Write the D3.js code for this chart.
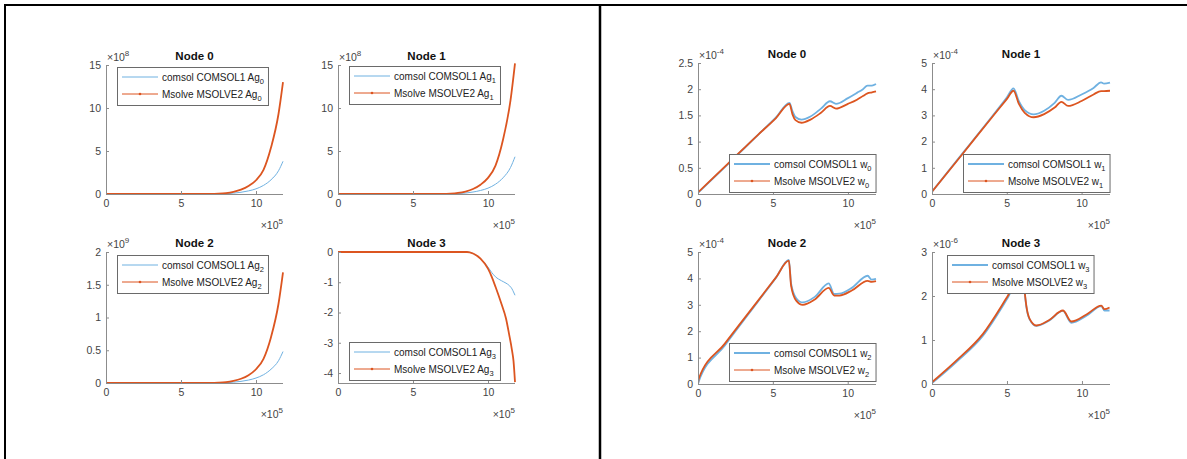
<!DOCTYPE html>
<html><head><meta charset="utf-8">
<script src="https://cdn.jsdelivr.net/npm/d3@7"></script>
<style>
html,body{margin:0;padding:0;background:#fff;}
svg{display:block;font-family:"Liberation Sans",Arial,Helvetica,sans-serif;}
</style></head><body>
<svg id="c" width="1187" height="459"></svg>
<script>
// ---------------- data (x in units of 1e5) ----------------
const xTicks = [0, 5, 10];
const seriesNames = ["comsol COMSOL1", "Msolve MSOLVE2"];

// Left block: Ag
const agX = [0, 1, 2, 3, 4, 5, 6, 7, 7.5, 8, 8.5, 9, 9.5, 10, 10.5, 11, 11.5, 11.8];
const ag0Comsol = [0, 0, 0, 0, 0, 0, 0, 0, 0.01, 0.04, 0.1, 0.2, 0.36, 0.6, 1.0, 1.65, 2.7, 3.8];
const ag0Msolve = [0, 0, 0, 0, 0, 0, 0, 0, 0.03, 0.1, 0.25, 0.5, 0.92, 1.6, 2.8, 5.4, 9.3, 13.0];
const ag1Comsol = [0, 0, 0, 0, 0, 0, 0, 0, 0.01, 0.05, 0.11, 0.23, 0.41, 0.68, 1.14, 1.88, 3.08, 4.33];
const ag1Msolve = [0, 0, 0, 0, 0, 0, 0, 0, 0.035, 0.12, 0.29, 0.58, 1.08, 1.87, 3.3, 6.3, 10.9, 15.2];
const ag2Comsol = [0, 0, 0, 0, 0, 0, 0, 0, 0.001, 0.005, 0.013, 0.025, 0.045, 0.076, 0.126, 0.21, 0.34, 0.48];
const ag2Msolve = [0, 0, 0, 0, 0, 0, 0, 0, 0.004, 0.013, 0.033, 0.065, 0.12, 0.21, 0.37, 0.7, 1.21, 1.69];
const ag3X = [0, 1, 2, 3, 4, 5, 6, 7, 8, 8.6, 9, 9.5, 10, 10.25, 10.5, 10.9, 11.2, 11.4, 11.6, 11.7, 11.8];
const ag3Comsol = [0, 0, 0, 0, 0, 0, 0, 0, 0, 0, -0.05, -0.22, -0.5, -0.68, -0.82, -0.95, -1.03, -1.1, -1.22, -1.32, -1.43];
const ag3Msolve = [0, 0, 0, 0, 0, 0, 0, 0, 0, 0, -0.05, -0.22, -0.55, -0.82, -1.15, -1.72, -2.2, -2.7, -3.25, -3.6, -4.3];

// Right block: w
const w0X = [0, 2, 4, 5.2, 6.1, 6.3, 6.5, 6.9, 7.5, 8.2, 8.8, 9.2, 10, 10.6, 11, 11.3, 11.6, 11.87];
const w0Comsol = [0.02, 0.57, 1.13, 1.46, 1.74, 1.58, 1.47, 1.42, 1.48, 1.63, 1.77, 1.72, 1.83, 1.93, 2.0, 2.07, 2.07, 2.1];
const w0Msolve = [0.03, 0.58, 1.13, 1.45, 1.72, 1.52, 1.41, 1.36, 1.42, 1.55, 1.68, 1.63, 1.72, 1.8, 1.87, 1.92, 1.94, 1.96];
const w1X = [0, 2, 4, 5.0, 5.45, 5.8, 6.2, 6.8, 7.5, 8.2, 8.65, 9.1, 10, 10.8, 11.3, 11.5, 11.9];
const w1Comsol = [0.09, 1.52, 2.95, 3.68, 4.03, 3.55, 3.2, 3.04, 3.18, 3.48, 3.75, 3.59, 3.8, 4.05, 4.26, 4.21, 4.25];
const w1Msolve = [0.09, 1.5, 2.92, 3.62, 3.94, 3.45, 3.1, 2.93, 3.05, 3.3, 3.52, 3.36, 3.55, 3.8, 3.93, 3.93, 3.94];
const w2X = [0, 0.05, 1.78, 4, 5.2, 6.07, 6.22, 6.56, 7.0, 7.8, 8.73, 9.1, 9.44, 10.3, 11.33, 11.6, 11.89];
const w2Comsol = [0, 0.1, 1.45, 3.12, 4.02, 4.7, 3.8, 3.25, 3.09, 3.3, 3.81, 3.41, 3.42, 3.65, 4.1, 3.95, 3.98];
const w2Msolve = [0, 0.2, 1.52, 3.15, 4.03, 4.67, 3.72, 3.16, 3.0, 3.2, 3.64, 3.35, 3.35, 3.55, 3.91, 3.87, 3.9];
const w3X = [0, 1.62, 3.4, 5.0, 6.05, 6.18, 6.29, 6.51, 6.96, 7.8, 8.73, 9.29, 10.3, 11.29, 11.5, 11.84];
const w3Comsol = [0.02, 0.5, 1.1, 1.93, 2.53, 2.08, 1.76, 1.47, 1.32, 1.44, 1.66, 1.39, 1.55, 1.77, 1.67, 1.67];
const w3Msolve = [0.04, 0.53, 1.14, 1.97, 2.55, 2.1, 1.78, 1.48, 1.33, 1.45, 1.67, 1.42, 1.58, 1.78, 1.7, 1.74];

// y tick labels per panel
const ticksAg01 = [0, 5, 10, 15];
const ticksAg2 = [0, 0.5, 1, 1.5, 2];
const ticksAg3 = [-4, -3, -2, -1, 0];
const ticksW0 = [0, 0.5, 1, 1.5, 2, 2.5];
const ticksW12 = [0, 1, 2, 3, 4, 5];
const ticksW3 = [0, 1, 2, 3];

// ---------------- layout ----------------
const panels = [
  {title:"Node 0", x:agX, b:ag0Comsol, r:ag0Msolve, sym:"Ag", idx:"0", yDom:[0,15], yT:ticksAg01, yExp:"8", xMax:11.8,
   box:[106,65,177,129], leg:{x:117,y:67}, bw:1},
  {title:"Node 1", x:agX, b:ag1Comsol, r:ag1Msolve, sym:"Ag", idx:"1", yDom:[0,15], yT:ticksAg01, yExp:"8", xMax:11.8,
   box:[338,65,177,129], leg:{x:349,y:66}, bw:1},
  {title:"Node 2", x:agX, b:ag2Comsol, r:ag2Msolve, sym:"Ag", idx:"2", yDom:[0,2], yT:ticksAg2, yExp:"9", xMax:11.8,
   box:[106,252,177,131], leg:{x:117,y:255}, bw:1},
  {title:"Node 3", x:ag3X, b:ag3Comsol, r:ag3Msolve, sym:"Ag", idx:"3", yDom:[-4.33,0], yT:ticksAg3, yExp:null, xMax:11.8,
   box:[338,252,177,131], leg:{x:349,y:342}, bw:1},
  {title:"Node 0", x:w0X, b:w0Comsol, r:w0Msolve, sym:"w", idx:"0", yDom:[0,2.5], yT:ticksW0, yExp:"-4", xMax:11.87,
   box:[698,63,178,131], leg:{right:876,y:154}, bw:1.8},
  {title:"Node 1", x:w1X, b:w1Comsol, r:w1Msolve, sym:"w", idx:"1", yDom:[0,5], yT:ticksW12, yExp:"-4", xMax:11.9,
   box:[932,63,178,131], leg:{right:1110,y:154}, bw:1.8},
  {title:"Node 2", x:w2X, b:w2Comsol, r:w2Msolve, sym:"w", idx:"2", yDom:[0,5], yT:ticksW12, yExp:"-4", xMax:11.89,
   box:[698,252,178,132], leg:{right:876,y:343}, bw:1.8},
  {title:"Node 3", x:w3X, b:w3Comsol, r:w3Msolve, sym:"w", idx:"3", yDom:[0,3], yT:ticksW3, yExp:"-6", xMax:11.87,
   box:[932,252,178,132], leg:{x:947,y:255}, bw:1.8}
];

const BLUE = "#6fb1e1", RED = "#dc5520";
const AXIS = "#8c8c8c", TXT = "#444";
const svg = d3.select("#c");

// table borders
svg.append("line").attr("x1",4).attr("x2",1187).attr("y1",5).attr("y2",5).attr("stroke","#000").attr("stroke-width",2);
svg.append("line").attr("x1",5).attr("x2",5).attr("y1",4).attr("y2",459).attr("stroke","#000").attr("stroke-width",2);
svg.append("line").attr("x1",600).attr("x2",600).attr("y1",4).attr("y2",459).attr("stroke","#000").attr("stroke-width",2.5);

panels.forEach(p => {
  const [L, T, W, H] = p.box;
  const x = d3.scaleLinear().domain([0, p.xMax]).range([L, L + W]);
  const y = d3.scaleLinear().domain(p.yDom).range([T + H, T]);
  const g = svg.append("g");

  // lines
  const pts = (ys) => p.x.map((xv, i) => [xv, ys[i]]);
  const line = d3.line().x(d => x(d[0])).y(d => y(d[1])).curve(d3.curveMonotoneX);
  const clipId = "clip" + L + "_" + T;
  svg.append("clipPath").attr("id", clipId).append("rect").attr("x", L).attr("y", T - 2).attr("width", W + 1).attr("height", H + 4);
  const lg = g.append("g").attr("clip-path", `url(#${clipId})`);
  lg.append("path").attr("d", line(pts(p.b))).attr("fill","none").attr("stroke",BLUE).attr("stroke-width",p.bw);
  lg.append("path").attr("d", line(pts(p.r))).attr("fill","none").attr("stroke",RED).attr("stroke-width",1.8);

  // axes
  const xAxis = d3.axisBottom(x).tickValues(xTicks).tickSize(-3).tickPadding(6).tickFormat(d => String(d));
  const yAxis = d3.axisLeft(y).tickValues(p.yT).tickSize(-3).tickPadding(5).tickFormat(d => String(d));
  const gx = g.append("g").attr("transform", `translate(0,${T + H})`).call(xAxis);
  const gy = g.append("g").attr("transform", `translate(${L},0)`).call(yAxis);
  [gx, gy].forEach(a => {
    a.selectAll(".tick line").attr("stroke", AXIS);
    a.selectAll(".tick text").attr("fill", TXT).attr("font-size", 10.5);
    a.attr("font-family", null);
    a.select(".domain").remove();
  });
  g.append("line").attr("x1", L).attr("x2", L + W).attr("y1", T + H + 0.5).attr("y2", T + H + 0.5).attr("stroke", AXIS);
  g.append("line").attr("x1", L + 0.5).attr("x2", L + 0.5).attr("y1", T).attr("y2", T + H).attr("stroke", AXIS);

  // title
  g.append("text").attr("x", L + W / 2).attr("y", T - 5).attr("text-anchor","middle")
    .attr("font-weight","bold").attr("font-size",11.5).attr("fill","#111").text(p.title);

  // y exponent
  if (p.yExp) {
    const t = g.append("text").attr("x", L + 1).attr("y", T - 4).attr("font-size", 10.5).attr("fill", TXT);
    t.append("tspan").text("×10");
    t.append("tspan").attr("dy", -5).attr("font-size", 8).text(p.yExp);
  }
  // x exponent
  const tx = g.append("text").attr("x", L + W).attr("y", T + H + 35).attr("font-size", 10.5).attr("fill", TXT).attr("text-anchor","end");
  tx.append("tspan").text("×10");
  tx.append("tspan").attr("dy", -5).attr("font-size", 8).text("5");

  // legend
  const lgd = g.append("g");
  const rect = lgd.append("rect").attr("fill","#fff").attr("stroke","#6a6a6a").attr("stroke-width",1);
  const rows = [{c:BLUE, w:p.bw, name:seriesNames[0], dot:false}, {c:RED, w:1, name:seriesNames[1], dot:true}];
  const texts = [];
  rows.forEach((r, i) => {
    const ry = 10 + i * 17;
    lgd.append("line").attr("x1",5).attr("x2",41).attr("y1",ry).attr("y2",ry).attr("stroke",r.c).attr("stroke-width",r.w);
    if (r.dot) lgd.append("circle").attr("cx",23).attr("cy",ry).attr("r",1.3).attr("fill",r.c);
    const t = lgd.append("text").attr("x",45).attr("y",ry+3.5).attr("font-size",10).attr("fill","#222");
    t.append("tspan").text(r.name + " " + p.sym);
    t.append("tspan").attr("dy",3).attr("font-size",7.5).text(p.idx);
    texts.push(t);
  });
  const tw = d3.max(texts, t => t.node().getComputedTextLength());
  const bwid = 45 + tw + 4, bht = 38;
  rect.attr("x",0.5).attr("y",0.5).attr("width",bwid).attr("height",bht);
  const lx = p.leg.right !== undefined ? p.leg.right - bwid : p.leg.x;
  lgd.attr("transform", `translate(${Math.round(lx)},${p.leg.y})`);
});
</script>
</body></html>
